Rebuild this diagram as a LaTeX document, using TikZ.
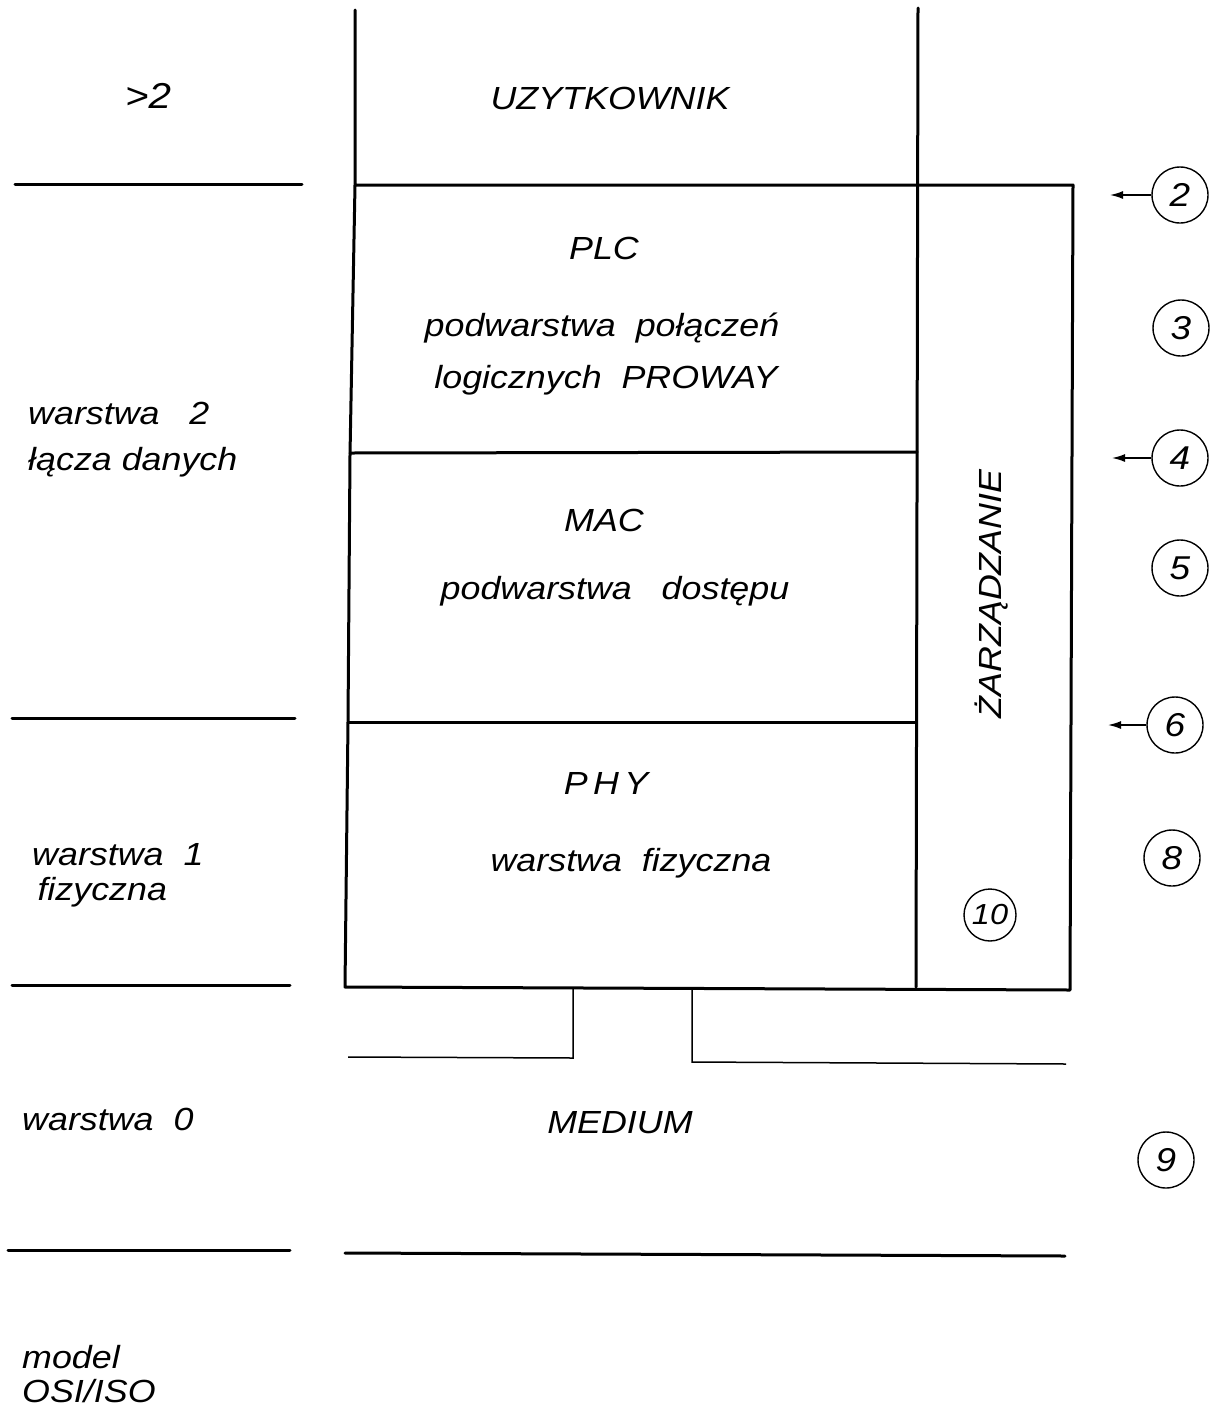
\documentclass[tikz,border=0pt]{standalone}
\usepackage{fontspec}
\setmainfont{Liberation Sans}
\newfontfamily\drawfont{Liberation Sans}[FakeStretch=1.12]
\usetikzlibrary{arrows.meta}
\begin{document}
\begin{tikzpicture}[x=1pt,y=-1pt,
  lbl/.style={font=\drawfont\fontsize{32}{40}\selectfont\itshape, inner sep=0pt},
  lbll/.style={lbl, anchor=west, align=left},
  thick line/.style={line width=3pt, line cap=round, line join=round},
  thin line/.style={line width=1.5pt},
  num/.style={circle, draw, line width=1.4pt, minimum size=56pt, inner sep=0pt, font=\drawfont\fontsize{33}{36}\selectfont\itshape},
  ptr/.style={line width=1.6pt, -{Latex[length=13pt,width=8pt]}}]
\useasboundingbox (0,0) rectangle (1218,1414);
% main frame
\draw[thick line] (355,10) -- (355,185) -- (350,455) -- (348,722) -- (345,987) -- (1070,990) -- (1073,185) -- (355,185);
\draw[thick line] (918,8) -- (916,987);
\draw[thick line] (350,453) -- (917,452);
\draw[thick line] (348,722) -- (916,722);
% left separators
\draw[thick line] (15,184) -- (302,184);
\draw[thick line] (12,718) -- (295,718);
\draw[thick line] (12,985) -- (290,985);
\draw[thick line] (8,1250) -- (290,1250);
% medium
\draw[thick line] (345,1253) -- (1065,1256);
\draw[thin line] (573,988) -- (573,1058) -- (348,1057);
\draw[thin line] (692,989) -- (692,1062) -- (1066,1064);
% texts
\node[lbl, font=\drawfont\fontsize{36}{40}\selectfont\itshape] (gt2) at (148,96) {>2};
\node[lbl] (user) at (610,98) {UZYTKOWNIK};
\node[lbl] (plc) at (604,248) {PLC};
\node[lbl] (plc1) at (602,328) {podwarstwa\ \ połączeń};
\node[lbl] (plc2) at (606,380) {logicznych\ \ PROWAY};
\node[lbl] (mac) at (604,520) {MAC};
\node[lbl] (mac1) at (615,591) {podwarstwa\ \ \ dostępu};
\node[lbl] (phy) at (606,783) {P\,H\,Y};
\node[lbl] (phy1) at (631,863) {warstwa\ \ fizyczna};
\node[lbl] (med) at (620,1123) {MEDIUM};
\node[lbl, rotate=90] (zarz) at (992,594) {ŻARZĄDZANIE};
\node[lbll, font=\drawfont\fontsize{32}{46}\selectfont\itshape] (w2) at (28,440) {warstwa\ \ \ 2\\łącza\ danych};
\node[lbll, font=\drawfont\fontsize{32}{35}\selectfont\itshape] (w1) at (32,875) {warstwa\ \ 1\\\,fizyczna};
\node[lbll] (w0) at (22,1119) {warstwa\ \ 0};
\node[lbll, font=\drawfont\fontsize{32}{34}\selectfont\itshape] (osi) at (22,1374) {model\\OSI/ISO};
% numbered circles
\node[num] (c2) at (1180,195) {2};
\node[num] (c3) at (1181,328) {3};
\node[num] (c4) at (1180,458) {4};
\node[num] (c5) at (1180,568) {5};
\node[num] (c6) at (1175,725) {6};
\node[num] (c8) at (1172,858) {8};
\node[num] (c9) at (1166,1160) {9};
\node[num, minimum size=52pt, font=\drawfont\fontsize{29}{32}\selectfont\itshape] (c10) at (990,915) {10};
\coordinate (a2) at (1110,195);
\coordinate (a4) at (1112,458);
\coordinate (a6) at (1108,725);
\draw[ptr] (c2) -- (a2);
\draw[ptr] (c4) -- (a4);
\draw[ptr] (c6) -- (a6);
\end{tikzpicture}
\end{document}
